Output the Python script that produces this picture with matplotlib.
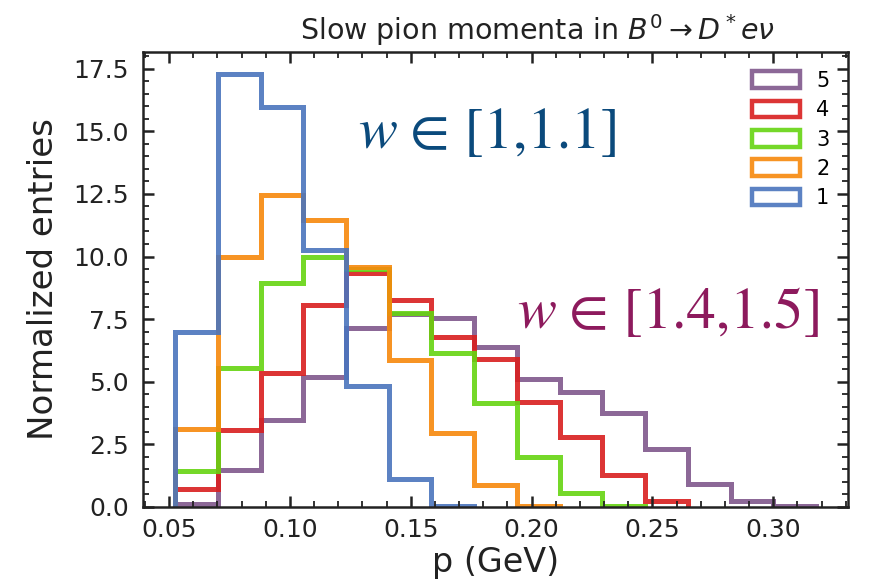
import numpy as np
import matplotlib
matplotlib.use("Agg")
import matplotlib.pyplot as plt
import matplotlib.patches as mpatches
from matplotlib.ticker import MultipleLocator, FormatStrFormatter

# ---- data ----
bin_edges = np.linspace(0.0525, 0.3177, 16)
labels = ["1", "2", "3", "4", "5"]
w1 = [7.0, 17.3, 15.95, 10.25, 4.85, 1.1, 0.04]
w2 = [3.1, 10.0, 12.45, 11.45, 9.6, 5.88, 2.95, 0.88, 0.05]
w3 = [1.45, 5.55, 8.95, 10.0, 9.5, 7.73, 6.15, 4.14, 2.0, 0.56, 0.05]
w4 = [0.7, 3.07, 5.34, 8.05, 9.36, 8.25, 6.8, 5.9, 4.18, 2.79, 1.27, 0.22]
w5 = [0.12, 1.47, 3.47, 5.18, 7.13, 7.7, 7.55, 6.37, 5.1, 4.58, 3.74, 2.31, 0.9, 0.24, 0.05]
series = [w1, w2, w3, w4, w5]
colors = ["#4a74bd", "#f7890c", "#66d411", "#d91f1f", "#80578c"]

title = r"Slow pion momenta in $B^0 \rightarrow D^* e\nu$"
xlabel = "p (GeV)"
ylabel = "Normalized entries"
note1_rest = "\u2009\u2208 [1,1.1]"
note2_rest = "\u2009\u2208 [1.4,1.5]"

plt.rcParams["mathtext.fontset"] = "dejavusans"

fig = plt.figure(figsize=(8.69, 5.83), dpi=100)
ax = fig.add_axes([143/869, 1-507/583, (848-143)/869, (507-52)/583])

handles = []
# draw 5 .. 1 so that 1 is on top and legend lists 5 first
for vals, col, lab in reversed(list(zip(series, colors, labels))):
    n = len(vals)
    ax.stairs(vals, bin_edges[:n+1], baseline=0, fill=False,
              color=col, lw=3.6, alpha=0.9)
    handles.append(mpatches.Patch(facecolor="none", edgecolor=col, lw=3.2,
                                  alpha=0.9, label=lab))

ax.autoscale()
ax.margins(x=0.05)
ax.set_ylim(bottom=0)

ax.xaxis.set_major_locator(MultipleLocator(0.05))
ax.xaxis.set_minor_locator(MultipleLocator(0.01))
ax.yaxis.set_major_locator(MultipleLocator(2.5))
ax.yaxis.set_minor_locator(MultipleLocator(0.5))
ax.xaxis.set_major_formatter(FormatStrFormatter("%.2f"))
ax.yaxis.set_major_formatter(FormatStrFormatter("%.1f"))
ax.tick_params(which="both", direction="in", top=True, right=True,
               colors="#222222", labelsize=18)
ax.tick_params(which="major", length=8, width=1.8)
ax.tick_params(which="minor", length=4.5, width=1.3)
ax.tick_params(axis="y", which="major", pad=10)
ax.tick_params(axis="x", which="major", pad=8)
for s in ax.spines.values():
    s.set_linewidth(1.8)
    s.set_color("#222222")

ax.set_xlabel(xlabel, fontsize=24, color="#222222", labelpad=3)
ax.set_ylabel(ylabel, fontsize=24.5, color="#222222", labelpad=10)
ax.set_title(title, fontsize=20.5, color="#222222", pad=9,
             x=(537-143)/705)

ax.legend(handles=handles, loc="upper right", frameon=False, fontsize=15,
          handlelength=2.3, handleheight=0.85, labelspacing=0.45,
          handletextpad=0.75, borderaxespad=0.5)

def note(x, y, rest, color):
    t1 = fig.text(x, y, "$w$", fontsize=42, color=color, ha="left",
                  va="baseline", math_fontfamily="stix")
    fig.canvas.draw()
    bb = t1.get_window_extent()
    fig.text(bb.x1 / fig.bbox.width, y, rest, fontsize=42, color=color,
             ha="left", va="baseline", family=["STIXGeneral", "DejaVu Serif"])

note(358/869, 1-148/583, note1_rest, "#0b4a7c")
note(517/869, 1-328/583, note2_rest, "#8d1a5d")

fig.savefig("out.png", dpi=100)
